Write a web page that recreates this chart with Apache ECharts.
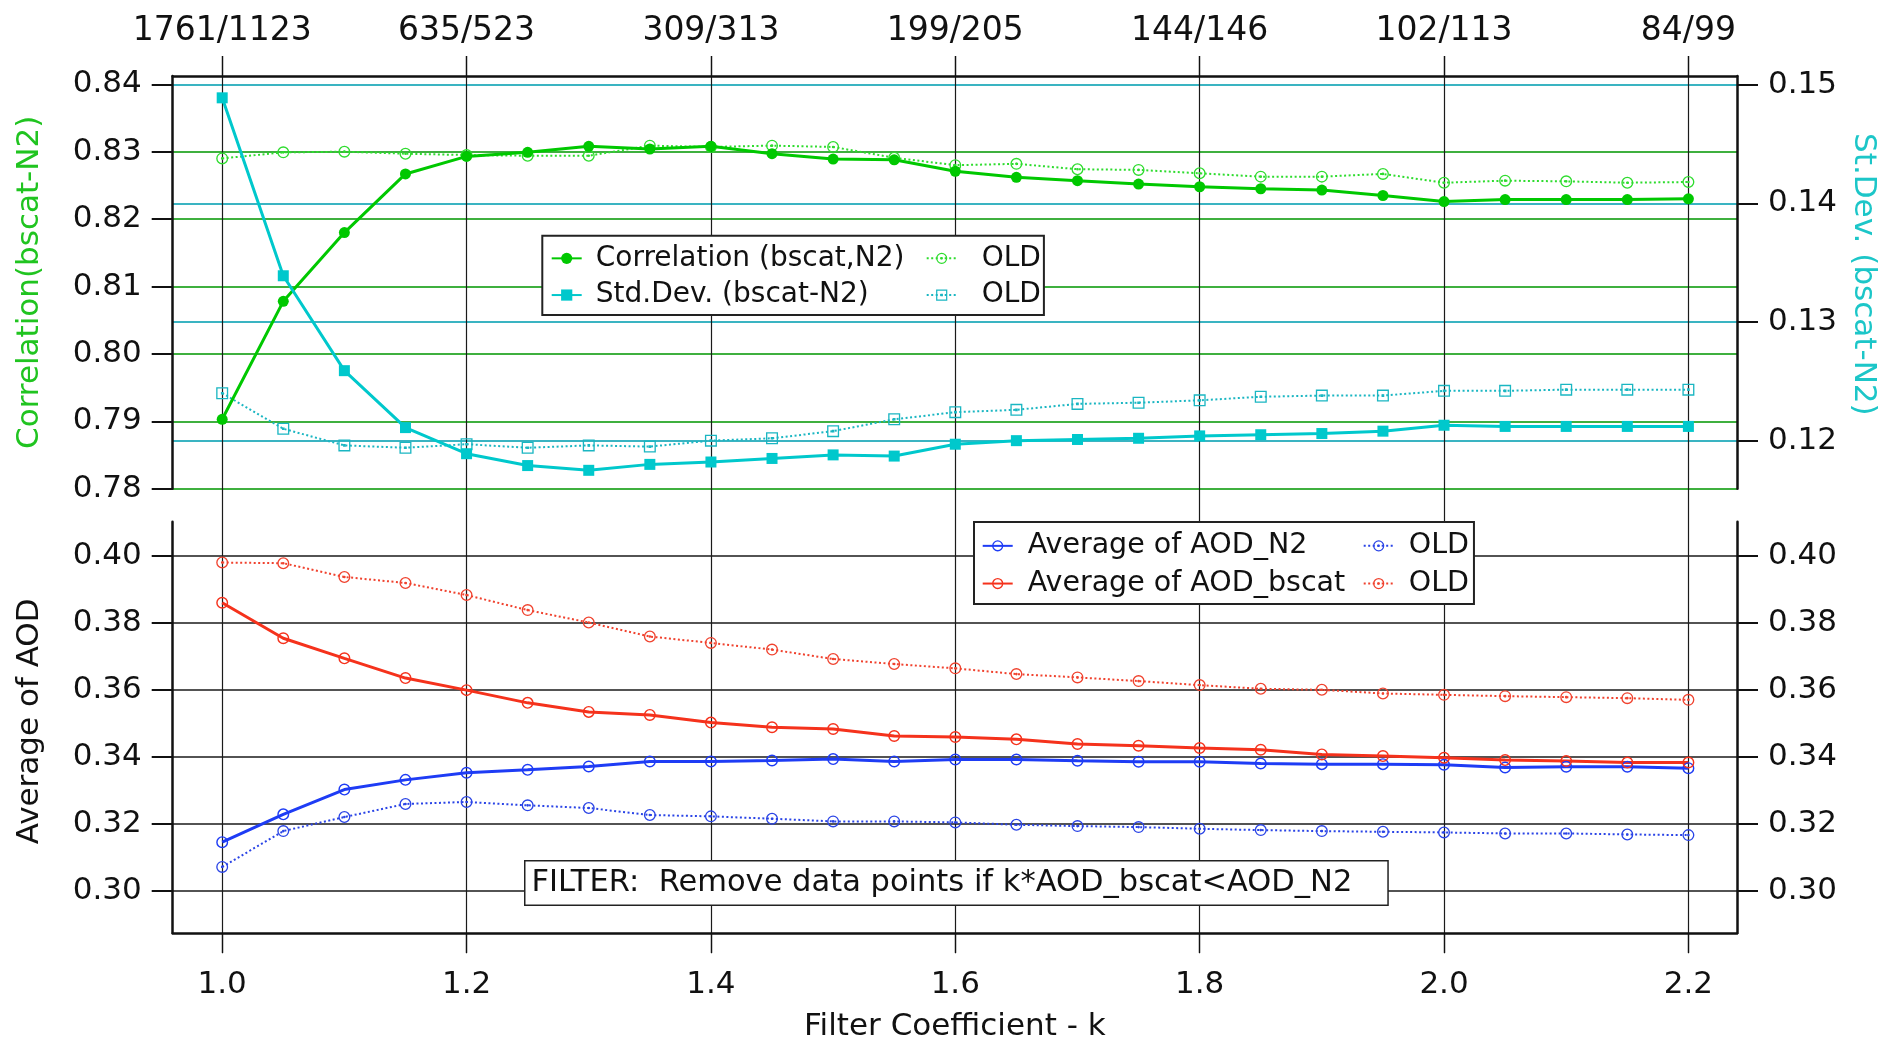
<!DOCTYPE html>
<html>
<head>
<meta charset="utf-8">
<script src="https://cdn.jsdelivr.net/npm/echarts/dist/echarts.min.js"></script>
<style>html,body{margin:0;padding:0;background:#fff;}#chart{width:1883px;height:1042px;}</style>
</head>
<body>
<div id="chart"></div>
<script>
// ---------- data ----------
const K = [1.00,1.05,1.10,1.15,1.20,1.25,1.30,1.35,1.40,1.45,1.50,1.55,1.60,1.65,1.70,1.75,1.80,1.85,1.90,1.95,2.00,2.05,2.10,2.15,2.20];
const CORR     = [0.7903,0.8078,0.8180,0.8267,0.8293,0.8299,0.8308,0.8304,0.8308,0.8297,0.8289,0.8288,0.8271,0.8262,0.8257,0.8252,0.8248,0.8245,0.8243,0.8235,0.8226,0.8229,0.8229,0.8229,0.8230];
const CORR_OLD = [0.8290,0.8299,0.8300,0.8297,0.8295,0.8294,0.8294,0.8309,0.8307,0.8309,0.8307,0.8291,0.8280,0.8282,0.8274,0.8273,0.8268,0.8263,0.8263,0.8267,0.8254,0.8257,0.8256,0.8254,0.8255];
const STD      = [0.1489,0.1339,0.1259,0.1211,0.1189,0.1179,0.1175,0.1180,0.1182,0.1185,0.1188,0.1187,0.1197,0.1200,0.1201,0.1202,0.1204,0.1205,0.1206,0.1208,0.1213,0.1212,0.1212,0.1212,0.1212];
const STD_OLD  = [0.1240,0.1210,0.1196,0.1194,0.1197,0.1194,0.1196,0.1195,0.1200,0.1202,0.1208,0.1218,0.1224,0.1226,0.1231,0.1232,0.1234,0.1237,0.1238,0.1238,0.1242,0.1242,0.1243,0.1243,0.1243];
const AOD_N2      = [0.3146,0.3229,0.3303,0.3332,0.3353,0.3362,0.3372,0.3387,0.3387,0.3390,0.3394,0.3387,0.3393,0.3393,0.3389,0.3386,0.3386,0.3381,0.3379,0.3379,0.3377,0.3369,0.3371,0.3371,0.3367];
const AOD_N2_OLD  = [0.3072,0.3179,0.3221,0.3260,0.3266,0.3256,0.3248,0.3227,0.3223,0.3216,0.3208,0.3208,0.3205,0.3198,0.3194,0.3191,0.3186,0.3182,0.3179,0.3177,0.3175,0.3172,0.3172,0.3169,0.3167];
const AOD_BSCAT     = [0.3861,0.3755,0.3695,0.3636,0.3600,0.3562,0.3535,0.3526,0.3503,0.3489,0.3484,0.3463,0.3460,0.3453,0.3439,0.3434,0.3427,0.3422,0.3408,0.3403,0.3398,0.3391,0.3388,0.3384,0.3384];
const AOD_BSCAT_OLD = [0.3981,0.3979,0.3938,0.3920,0.3884,0.3839,0.3802,0.3760,0.3741,0.3721,0.3693,0.3678,0.3665,0.3648,0.3638,0.3627,0.3615,0.3604,0.3601,0.3590,0.3586,0.3582,0.3579,0.3576,0.3571];

const X_TICKS = [1.0,1.2,1.4,1.6,1.8,2.0,2.2];
const TOP_LABELS = ['1761/1123','635/523','309/313','199/205','144/146','102/113','84/99'];
const CORR_TICKS = [0.78,0.79,0.80,0.81,0.82,0.83,0.84];
const STD_TICKS = [0.12,0.13,0.14,0.15];
const AOD_TICKS = [0.30,0.32,0.34,0.36,0.38,0.40];

const FILTER_TEXT = 'FILTER:  Remove data points if k*AOD_bscat<AOD_N2';

// ---------- style ----------
const FONT = 'DejaVu Sans';
const GREEN = '#00c800', GREEN_OLD = '#2edc2e';
const CYAN = '#00c8cc', CYAN_OLD = '#1ab6c2';
const BLUE = '#1e3cf5', BLUE_OLD = '#2a44e6';
const RED = '#f5321c', RED_OLD = '#f0422e';
const RING_DOT = 'path://M50,0A50,50,0,1,1,50,100A50,50,0,1,1,50,0ZM50,11A39,39,0,1,0,50,89A39,39,0,1,0,50,11ZM50,39A11,11,0,1,1,50,61A11,11,0,1,1,50,39Z';
const SQ_DOT = 'path://M0,0H100V100H0ZM11,11V89H89V11ZM39,39H61V61H39Z';
const RING = 'path://M50,0A50,50,0,1,1,50,100A50,50,0,1,1,50,0ZM50,12A38,38,0,1,0,50,88A38,38,0,1,0,50,12Z';

const XMIN = 0.95949, XMAX = 2.23978;
const zip = (a) => K.map((k, i) => [k, a[i]]);
const near = (v, arr) => arr.findIndex(t => Math.abs(t - v) < 1e-6);

const tickLabel = { fontFamily: FONT, fontSize: 31, color: '#111' };

function solid(name, data, color, symbol, size, xi, yi) {
  return { name, type: 'line', xAxisIndex: xi, yAxisIndex: yi, data: zip(data),
    symbol, symbolSize: size, showSymbol: true,
    lineStyle: { color, width: 3, type: 'solid' },
    itemStyle: { color, borderWidth: 0 }, emphasis: { disabled: true }, z: 3 };
}
function dotted(name, data, color, symbol, size, xi, yi) {
  return { name, type: 'line', xAxisIndex: xi, yAxisIndex: yi, data: zip(data),
    symbol, symbolSize: size, showSymbol: true,
    lineStyle: { color, width: 2, type: [2, 2.5] },
    itemStyle: { color, borderWidth: 0 }, emphasis: { disabled: true }, z: 2 };
}
const VPAD = 4.35;
const G = { containLabel: false, outerBoundsMode: 'none' };

const chart = echarts.init(document.getElementById('chart'), null, { renderer: 'canvas' });
const option = {
  animation: false,
  backgroundColor: '#fff',
  grid: [
    { ...G, left: 172.7, right: 146, top: 76, bottom: 553.3 },
    { ...G, left: 172.7, right: 146, top: 521.7, bottom: 109.1 },
    { ...G, left: 172.7, right: 146, top: 56, bottom: 88.7 }
  ],
  xAxis: [
    { gridIndex: 0, type: 'value', position: 'top', min: XMIN, max: XMAX,
      axisLine: { show: true, lineStyle: { color: '#111', width: 2.5 } },
      axisTick: { show: true, inside: false, length: 20, customValues: X_TICKS, lineStyle: { color: '#111', width: 1.3 } },
      axisLabel: { customValues: X_TICKS, margin: 28, ...tickLabel, fontSize: 33,
        formatter: v => TOP_LABELS[near(v, X_TICKS)] },
      splitLine: { show: false } },
    { gridIndex: 1, type: 'value', position: 'bottom', min: XMIN, max: XMAX,
      name: 'Filter Coefficient - k', nameLocation: 'middle', nameGap: 79,
      nameTextStyle: { fontFamily: FONT, fontSize: 31, color: '#111' },
      axisLine: { show: true, onZero: false, lineStyle: { color: '#111', width: 2.5 } },
      axisTick: { show: true, inside: false, length: 20, customValues: X_TICKS, lineStyle: { color: '#111', width: 1.3 } },
      axisLabel: { customValues: X_TICKS, margin: 37, ...tickLabel, formatter: v => v.toFixed(1) },
      splitLine: { show: false } },
    { gridIndex: 2, type: 'value', min: XMIN, max: XMAX,
      axisLine: { show: false }, axisLabel: { show: false },
      axisTick: { show: false, customValues: X_TICKS },
      splitLine: { show: true, lineStyle: { color: '#1a1a1a', width: 1.2 } } }
  ],
  yAxis: [
    { gridIndex: 0, type: 'value', position: 'left', min: 0.78, max: 0.84123,
      name: 'Correlation(bscat-N2)', nameLocation: 'middle', nameRotate: 90, nameGap: 127,
      nameTextStyle: { fontFamily: FONT, fontSize: 31, color: '#20c420' },
      axisLine: { show: true, lineStyle: { color: '#111', width: 2.5 } },
      axisTick: { show: true, inside: false, length: 21, customValues: CORR_TICKS, lineStyle: { color: '#111', width: 2 } },
      axisLabel: { customValues: CORR_TICKS, margin: 31, ...tickLabel, formatter: v => v.toFixed(2) },
      splitLine: { show: true, lineStyle: { color: '#3fb03f', width: 2 } } },
    { gridIndex: 0, type: 'value', position: 'right', min: 0.11595, max: 0.15074,
      name: 'St.Dev. (bscat-N2)', nameLocation: 'middle', nameRotate: -90, nameGap: 111,
      nameTextStyle: { fontFamily: FONT, fontSize: 31, color: '#1cc6c8', padding: [0, 16, 0, 0] },
      axisLine: { show: true, lineStyle: { color: '#111', width: 2.5 } },
      axisTick: { show: true, inside: false, length: 21, customValues: STD_TICKS, lineStyle: { color: '#111', width: 2 } },
      axisLabel: { customValues: STD_TICKS, margin: 31, ...tickLabel, formatter: v => v.toFixed(2) },
      splitLine: { show: true, lineStyle: { color: '#3ab4c2', width: 2 } } },
    { gridIndex: 1, type: 'value', position: 'left', min: 0.2875, max: 0.4103,
      name: 'Average of AOD', nameLocation: 'middle', nameRotate: 90, nameGap: 127,
      nameTextStyle: { fontFamily: FONT, fontSize: 31, color: '#111', padding: [0, 0, 0, 12] },
      axisLine: { show: true, lineStyle: { color: '#111', width: 2.5 } },
      axisTick: { show: true, inside: false, length: 21, customValues: AOD_TICKS, lineStyle: { color: '#111', width: 2 } },
      axisLabel: { customValues: AOD_TICKS, margin: 31, ...tickLabel, formatter: v => v.toFixed(2) },
      splitLine: { show: true, lineStyle: { color: '#1a1a1a', width: 1.6 } } },
    { gridIndex: 1, type: 'value', position: 'right', min: 0.2875, max: 0.4103,
      axisLine: { show: true, lineStyle: { color: '#111', width: 2.5 } },
      axisTick: { show: true, inside: false, length: 21, customValues: AOD_TICKS, lineStyle: { color: '#111', width: 2 } },
      axisLabel: { customValues: AOD_TICKS, margin: 31, ...tickLabel, formatter: v => v.toFixed(2) },
      splitLine: { show: false } },
    { gridIndex: 2, type: 'value', min: 0, max: 1, show: false }
  ],
  legend: [
    { data: [
        { name: 'Correlation (bscat,N2)' },
        { name: 'OLD_corr', textStyle: { padding: [VPAD, 0, VPAD, 20] } },
        { name: 'Std.Dev. (bscat-N2)' },
        { name: 'OLD_std', textStyle: { padding: [VPAD, 0, VPAD, 20] } } ],
      orient: 'horizontal', left: 542.3, top: 235.7, width: 520, itemGap: 0,
      itemWidth: 30, itemHeight: 14, selectedMode: false,
      padding: [4.3, 3, 1.7, 8.4], backgroundColor: '#fff', borderColor: '#222', borderWidth: 2,
      formatter: n => n.indexOf('OLD') === 0 ? 'OLD' : '{a|' + n + '}',
      textStyle: { fontFamily: FONT, fontSize: 28, color: '#111', padding: [VPAD, 0, VPAD, 9],
        backgroundColor: '#ffffff',
        rich: { a: { width: 330, fontFamily: FONT, fontSize: 28, color: '#111' } } } },
    { data: [
        { name: 'Average of AOD_N2' },
        { name: 'OLD_n2', textStyle: { padding: [VPAD, 0, VPAD, 10] } },
        { name: 'Average of AOD_bscat' },
        { name: 'OLD_bscat', textStyle: { padding: [VPAD, 0, VPAD, 10] } } ],
      orient: 'horizontal', left: 974, top: 522, width: 520, itemGap: 0,
      itemWidth: 30, itemHeight: 14, selectedMode: false,
      padding: [5, 5, 1.7, 7.7], backgroundColor: '#fff', borderColor: '#222', borderWidth: 2,
      formatter: n => n.indexOf('OLD') === 0 ? 'OLD' : '{a|' + n + '}',
      textStyle: { fontFamily: FONT, fontSize: 28.5, color: '#111', padding: [VPAD, 0, VPAD, 10],
        backgroundColor: '#ffffff',
        rich: { a: { width: 335, fontFamily: FONT, fontSize: 28.5, color: '#111' } } } }
  ],
  graphic: [
    { type: 'text', left: 524, top: 860, z: 100,
      style: { text: FILTER_TEXT, font: '30.5px "DejaVu Sans"', fill: '#111',
        backgroundColor: '#fff', borderColor: '#222', borderWidth: 1.5, padding: [6, 35, 6, 6] } }
  ],
  series: [
    solid('Correlation (bscat,N2)', CORR, GREEN, 'circle', 11, 0, 0),
    dotted('OLD_corr', CORR_OLD, GREEN_OLD, RING_DOT, 12, 0, 0),
    solid('Std.Dev. (bscat-N2)', STD, CYAN, 'rect', 11, 0, 1),
    dotted('OLD_std', STD_OLD, CYAN_OLD, SQ_DOT, 12, 0, 1),
    solid('Average of AOD_N2', AOD_N2, BLUE, RING, 12, 1, 2),
    dotted('OLD_n2', AOD_N2_OLD, BLUE_OLD, RING_DOT, 12, 1, 2),
    solid('Average of AOD_bscat', AOD_BSCAT, RED, RING, 12, 1, 2),
    dotted('OLD_bscat', AOD_BSCAT_OLD, RED_OLD, RING_DOT, 12, 1, 2)
  ]
};
chart.setOption(option);
</script>
</body>
</html>
